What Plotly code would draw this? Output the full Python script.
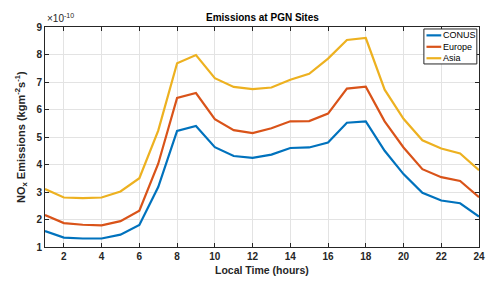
import plotly.graph_objects as go

hours = list(range(1, 25))
conus = [1.58, 1.34, 1.31, 1.31, 1.45, 1.80, 3.18, 5.22, 5.40, 4.63, 4.31, 4.24, 4.36, 4.60, 4.62, 4.80,
         5.52, 5.57, 4.50, 3.65, 2.97, 2.69, 2.59, 2.11]
europe = [2.16, 1.87, 1.81, 1.79, 1.94, 2.32, 4.03, 6.42, 6.60, 5.65, 5.25, 5.14, 5.32, 5.57, 5.58, 5.85,
          6.76, 6.83, 5.57, 4.62, 3.83, 3.54, 3.40, 2.81]
asia = [3.11, 2.80, 2.78, 2.80, 3.02, 3.50, 5.23, 7.68, 7.98, 7.14, 6.82, 6.74, 6.80, 7.08, 7.30, 7.85,
        8.53, 8.60, 6.72, 5.66, 4.88, 4.58, 4.40, 3.79]

series_names = ["CONUS", "Europe", "Asia"]
series_values = [conus, europe, asia]
series_colors = ["#0072BD", "#D95319", "#EDB120"]
x_ticks = list(range(2, 25, 2))
y_ticks = list(range(1, 10))

FONT = "Liberation Sans, Arial, sans-serif"

fig = go.Figure()
for name, vals, col in zip(series_names, series_values, series_colors):
    fig.add_trace(go.Scatter(x=hours, y=vals, name=name, mode="lines",
                             line=dict(color=col, width=2.2), showlegend=False))

axis_common = dict(showgrid=True, gridcolor="#e3e3e3", gridwidth=1, ticks="inside", ticklen=4,
                   tickcolor="#262626", showline=True, linecolor="#262626", linewidth=1,
                   mirror="ticks", zeroline=False,
                   tickfont=dict(family=FONT, size=10, color="#262626", weight="bold"))

fig.update_xaxes(range=[1, 24], tickvals=x_ticks, **axis_common)
fig.update_yaxes(range=[1, 9], tickvals=y_ticks, **axis_common)

annotations = [
    dict(text="<b>Emissions at PGN Sites</b>", x=0.5, y=1.0, xref="paper", yref="paper",
         xanchor="center", yanchor="bottom", yshift=2, showarrow=False,
         font=dict(family=FONT, size=10, color="#000000")),
    dict(text="×10<sup>-10</sup>", x=0, y=1.0, xref="paper", yref="paper",
         xanchor="left", yanchor="bottom", yshift=1, showarrow=False,
         font=dict(family=FONT, size=10, color="#262626")),
    dict(text="<b>Local Time (hours)</b>", x=0.5, y=0, xref="paper", yref="paper",
         xanchor="center", yanchor="top", yshift=-15, showarrow=False,
         font=dict(family=FONT, size=10.5, color="#262626")),
    dict(text="<b>NO<sub>x</sub> Emissions (kgm<sup>-2</sup>s<sup>-1</sup>)</b>", x=0, y=0.5,
         xref="paper", yref="paper", xanchor="right", yanchor="middle", xshift=-14,
         textangle=-90, showarrow=False,
         font=dict(family=FONT, size=11, color="#262626")),
]

# compact MATLAB-style legend box
shapes = [dict(type="rect", xref="paper", yref="paper", x0=0.873, x1=0.995, y0=0.832, y1=0.991,
               line=dict(color="#262626", width=1), fillcolor="white", layer="above")]
item_y = [0.962, 0.910, 0.858]
for name, col, yy in zip(series_names, series_colors, item_y):
    shapes.append(dict(type="line", xref="paper", yref="paper", x0=0.879, x1=0.913, y0=yy, y1=yy,
                       line=dict(color=col, width=2.2), layer="above"))
    annotations.append(dict(text=name, x=0.913, y=yy, xref="paper", yref="paper",
                            xanchor="left", yanchor="middle", showarrow=False,
                            font=dict(family=FONT, size=9, color="#000000")))

fig.update_layout(
    width=492, height=273,
    margin=dict(l=37, r=21, t=19, b=34),
    paper_bgcolor="white", plot_bgcolor="white",
    font=dict(family=FONT, color="#262626"),
    showlegend=False,
    annotations=annotations,
    shapes=shapes,
)

fig.write_html("out.html")
